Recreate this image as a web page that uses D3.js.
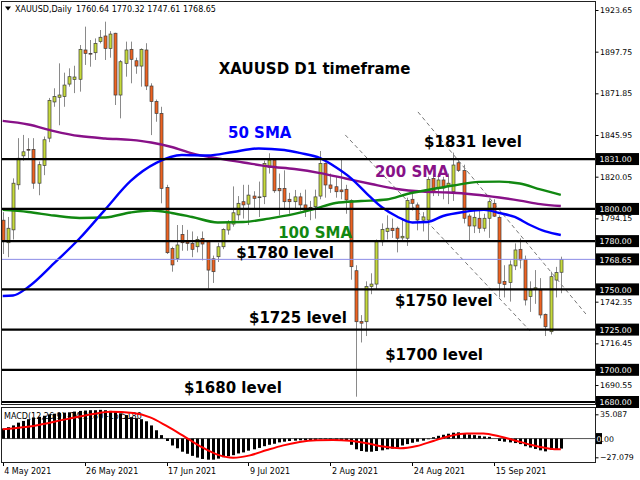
<!DOCTYPE html>
<html><head><meta charset="utf-8">
<script src="https://cdn.jsdelivr.net/npm/d3@7"></script>
<style>
html,body{margin:0;padding:0;background:#fff;}
svg{display:block;}
</style></head><body>
<svg id="c" width="640" height="480"></svg>
<script>
// ---------- DATA ----------
const symbol = "XAUUSD,Daily";
const lastOHLC = "1760.64 1770.32 1747.61 1768.65";
const openP = [1793.0,1779.0,1787.0,1815.0,1833.0,1837.0,1837.0,1816.0,1827.0,1844.0,
1866.5,1869.4,1869.8,1877.6,1880.5,1880.6,1898.8,1896.7,1897.1,1904.0,
1907.5,1899.8,1909.2,1870.8,1890.5,1899.2,1892.1,1888.8,1898.8,1876.4,
1866.7,1859.4,1813.4,1775.5,1769.3,1784.2,1779.5,1778.6,1776.5,1781.7,
1779.6,1769.0,1770.3,1776.5,1786.9,1790.6,1796.3,1804.5,1803.0,1808.0,
1807.2,1807.6,1825.9,1830.4,1812.8,1812.8,1806.0,1804.5,1807.5,1802.5,
1801.0,1801.4,1808.0,1828.3,1814.9,1813.8,1811.8,1812.2,1805.2,1761.6,
1730.0,1729.9,1751.7,1753.3,1779.6,1786.0,1788.0,1788.0,1782.0,1781.8,
1806.0,1802.5,1793.0,1793.1,1819.0,1813.0,1818.0,1814.0,1810.7,1828.7,
1823.8,1795.6,1789.4,1794.2,1788.0,1794.2,1803.5,1794.8,1755.0,1754.2,
1764.6,1774.9,1768.7,1745.5,1750.0,1749.6,1734.5,1723.7,1755.8,1760.64];
const highP = [1798.0,1795.0,1819.0,1844.0,1846.0,1844.0,1844.0,1829.5,1845.0,1869.0,
1875.0,1890.5,1884.7,1887.4,1889.0,1901.9,1913.3,1905.0,1906.0,1911.2,
1916.4,1910.5,1909.5,1892.5,1904.0,1904.0,1894.0,1899.8,1903.0,1878.1,
1868.0,1863.5,1815.0,1776.5,1790.0,1790.0,1787.0,1786.0,1783.0,1786.0,
1780.0,1771.0,1779.0,1788.0,1793.0,1814.0,1808.0,1815.0,1815.0,1811.0,
1817.0,1830.0,1834.6,1831.3,1822.0,1824.0,1810.0,1811.8,1810.0,1812.0,
1805.0,1812.0,1836.0,1828.9,1822.0,1820.0,1830.8,1815.0,1806.0,1765.0,
1734.0,1755.0,1760.0,1781.0,1791.0,1796.0,1794.0,1789.0,1794.0,1807.0,
1810.0,1804.0,1798.0,1820.0,1822.0,1822.0,1820.0,1822.0,1835.0,1831.0,
1827.5,1797.0,1799.0,1799.0,1797.0,1806.0,1806.0,1796.0,1765.0,1768.0,
1778.6,1781.7,1771.0,1755.0,1762.0,1757.0,1735.0,1761.0,1764.0,1770.32];
const lowP = [1772.0,1770.0,1781.0,1812.0,1830.0,1830.5,1812.5,1808.5,1821.0,1841.5,
1863.5,1852.0,1863.5,1876.0,1872.0,1872.9,1889.5,1888.4,1892.6,1902.9,
1892.6,1894.0,1864.6,1856.3,1882.2,1878.1,1884.0,1876.0,1873.9,1845.9,
1854.2,1803.5,1772.0,1761.0,1767.0,1774.0,1774.0,1770.0,1773.0,1768.0,
1750.5,1754.0,1767.0,1775.0,1784.0,1789.0,1793.0,1794.0,1790.0,1800.0,
1795.0,1803.0,1822.0,1810.0,1796.0,1800.0,1797.0,1800.4,1799.0,1795.0,
1793.0,1794.0,1806.0,1807.0,1810.0,1807.0,1806.0,1797.0,1756.0,1683.3,
1717.0,1721.0,1747.0,1750.0,1777.0,1781.0,1782.0,1773.0,1780.0,1777.0,
1799.0,1786.7,1786.0,1780.0,1808.0,1808.0,1806.0,1803.0,1805.0,1823.0,
1791.0,1780.0,1785.0,1785.0,1786.0,1782.0,1795.0,1745.0,1745.0,1742.4,
1762.0,1763.0,1740.0,1736.0,1741.0,1732.0,1721.0,1722.0,1745.0,1747.61];
const closeP = [1780.0,1788.0,1816.0,1831.5,1835.5,1836.5,1816.0,1827.5,1843.0,1867.5,
1869.8,1870.8,1877.0,1882.2,1882.0,1899.2,1896.7,1896.2,1902.9,1906.7,
1899.8,1908.7,1870.8,1891.5,1898.8,1893.0,1888.8,1899.2,1876.4,1866.7,
1859.4,1812.8,1772.8,1765.2,1777.6,1779.0,1778.6,1774.9,1781.1,1778.2,
1762.0,1761.0,1776.5,1787.3,1792.0,1797.6,1803.5,1802.5,1808.6,1806.6,
1807.5,1828.3,1830.4,1811.3,1811.3,1804.5,1804.5,1807.5,1802.5,1798.3,
1800.0,1807.5,1828.3,1814.9,1812.8,1810.7,1810.7,1805.6,1764.1,1729.9,
1729.0,1751.7,1753.3,1779.6,1787.3,1788.0,1786.5,1781.8,1783.0,1805.2,
1803.5,1793.1,1795.0,1818.4,1811.0,1818.0,1813.0,1816.0,1827.3,1824.0,
1794.2,1789.4,1794.8,1788.0,1794.2,1804.5,1795.5,1753.8,1753.0,1765.2,
1774.5,1768.3,1743.4,1749.6,1751.0,1734.1,1726.8,1757.9,1760.4,1768.65];

// moving averages: [bar index, price]
const sma50 = [[0,1745.9],[2,1746.2],[5,1751.5],[10,1766.1],[15,1781.6],[20,1799.6],[25,1817.4],[30,1828.6],
[35,1833.5],[40,1833.2],[45,1835.4],[50,1837.6],[55,1836.6],[58,1834.8],[62,1831.6],[65,1826.1],
[68,1819.2],[71,1809.9],[74,1801.2],[77,1795.3],[80,1791.6],[83,1791.9],[86,1795.6],[90,1798.1],
[94,1799.4],[97,1797.5],[100,1795],[103,1790],[106,1786],[109,1783.8]];
const sma100 = [[0,1799.4],[5,1798.1],[10,1795.9],[15,1794.4],[20,1794.7],[25,1797.8],[29,1799],
[33,1797.5],[37,1795],[42,1791.6],[47,1791.9],[52,1794],[57,1796.9],[61,1800],[65,1803.7],
[70,1804.9],[75,1805.9],[79,1809.3],[83,1811.8],[88,1814.6],[93,1816.8],[97,1817],[101,1815.8],
[105,1812.1],[109,1808.7]];
const sma200 = [[0,1854.7],[5,1852.5],[10,1848.4],[15,1845.3],[20,1843.8],[25,1842.9],[29,1841.3],
[33,1838.5],[37,1834.5],[42,1831.4],[47,1828.9],[52,1826.4],[57,1824.8],[62,1822.3],[67,1818.9],
[72,1815.5],[77,1812.4],[82,1810.8],[87,1810.2],[92,1809],[97,1807.1],[101,1805.2],[105,1803],
[109,1801.8]];

const levels = [1831, 1800, 1780, 1750, 1725, 1700, 1680];
const currentPrice = 1768.65;
const priceTicks = [1923.65,1897.75,1871.85,1845.95,1820.05,1794.15,1742.35,1716.45,1690.55];
const trendLines = [[[81.1,1860.3],[113.9,1734.7]], [[66.9,1846.0],[103.0,1724.2]]];

const macdMain = [14.5,16.5,19,23,25.5,28,30.5,31.5,33,35,
36,37,37.5,38,39,40,40.5,41,41,41.5,
41,40,38,36.5,34,31,29.5,28,25,19,
12,5,-3.5,-10,-14,-19,-22,-25,-27.5,-29.5,
-30.5,-30.5,-29,-27,-25.5,-24,-21.5,-20,-17.5,-15.5,
-13.5,-11,-9,-7.5,-5.5,-4.5,-3.5,-3,-2.5,-2.5,
-2.5,-2,-1,-1,-1.5,-2,-2.5,-3.5,-9,-15.5,
-18,-19,-19,-18,-17,-15.5,-14.5,-13,-10,-8,
-6,-4.5,-3,-1,2,4,5.5,7,8.5,9,
7,6,5,4,3,2.5,0,-3.5,-4.5,-5.5,
-6.5,-8,-11,-13,-15,-17,-18.5,-16,-15,-14.5];
const macdSignal = [[0,13.5],[6,18.3],[12.5,28.1],[17.7,35.4],[21,38.7],[25.5,36.8],[28.8,30.6],
[32,18.3],[35.3,3.8],[38.5,-10.8],[41.8,-22.9],[45,-27.7],[48.3,-24.3],[51.6,-16.6],[54.8,-9.8],
[58,-4.9],[61.3,-2.5],[64.5,-2],[67.8,-3],[71.1,-6.8],[74.3,-11.6],[77.6,-14.1],[80.9,-10.8],
[84.1,-3.4],[87.4,3.8],[90.6,7.3],[93.9,7.3],[97.1,2.9],[100.4,-3.4],[103.6,-9.8],[106.9,-14.6],
[109,-15.6]];
const macdTicks = [35.087, -27.079];
const macdLabel = "MACD(12,26,9) -14.2180 -15.5180";

const dateTickIdx = [0,16,32,48,64,80,96];
const dateTickLabels = ["4 May 2021","26 May 2021","17 Jun 2021","9 Jul 2021","2 Aug 2021","24 Aug 2021","15 Sep 2021"];

const annotations = [
  {t:"XAUUSD D1 timeframe", i:42.2, p:1883.9, c:"#000", s:15},
  {t:"50 SMA", i:44.0, p:1844.1, c:"#0000ff", s:15},
  {t:"$1831 level", i:82.3, p:1838.5, c:"#000", s:15},
  {t:"200 SMA", i:72.7, p:1819.9, c:"#881188", s:15},
  {t:"100 SMA", i:53.8, p:1781.9, c:"#118811", s:15},
  {t:"$1780 level", i:45.6, p:1769.5, c:"#000", s:15},
  {t:"$1750 level", i:76.6, p:1739.7, c:"#000", s:15},
  {t:"$1725 level", i:48.1, p:1729.1, c:"#000", s:15},
  {t:"$1700 level", i:74.7, p:1706.1, c:"#000", s:15},
  {t:"$1680 level", i:35.4, p:1685.6, c:"#000", s:15}
];

// ---------- DRAW ----------
const svg = d3.select("#c");
const FONT = "DejaVu Sans";
const plotR = 595.5;
const x = d3.scaleLinear().domain([0,109]).range([2.7,560.8]);
const y = d3.scaleLinear().domain([1680,1923.65]).range([402,10]);
const ym = d3.scaleLinear().domain([-27.079,35.087]).range([457.3,414.3]);

svg.append("rect").attr("width",640).attr("height",480).attr("fill","#fff");

const defs = svg.append("defs");
defs.append("clipPath").attr("id","pc").append("rect").attr("x",1.5).attr("y",1.5).attr("width",plotR-1.5).attr("height",403);
defs.append("clipPath").attr("id","mc").append("rect").attr("x",1.5).attr("y",407.5).attr("width",plotR-1.5).attr("height",55);

const gp = svg.append("g").attr("clip-path","url(#pc)");

// trend channel dashed lines
gp.selectAll("line.tr").data(trendLines).enter().append("line")
  .attr("x1",d=>x(d[0][0])).attr("y1",d=>y(d[0][1]))
  .attr("x2",d=>x(d[1][0])).attr("y2",d=>y(d[1][1]))
  .attr("stroke","#777").attr("stroke-width",1).attr("stroke-dasharray","4,3");

// candles
const bars = d3.range(openP.length);
gp.selectAll("line.wick").data(bars).enter().append("line")
  .attr("x1",i=>Math.round(x(i))+0.5).attr("x2",i=>Math.round(x(i))+0.5)
  .attr("y1",i=>y(highP[i])).attr("y2",i=>y(lowP[i]))
  .attr("stroke","#8a8a8a").attr("stroke-width",1);
gp.selectAll("rect.body").data(bars).enter().append("rect")
  .attr("x",i=>Math.round(x(i))-1)
  .attr("width",3)
  .attr("y",i=>y(Math.max(openP[i],closeP[i])))
  .attr("height",i=>Math.max(0.8, Math.abs(y(openP[i])-y(closeP[i]))))
  .attr("fill",i=>closeP[i]>=openP[i]?"#c6da3a":"#ee6220")
  .attr("stroke","#3c3c3c").attr("stroke-width",0.7);

// moving averages
const maLine = d3.line().x(d=>x(d[0])).y(d=>y(d[1])).curve(d3.curveMonotoneX);
[[sma200,"#881188"],[sma100,"#118811"],[sma50,"#0000ff"]].forEach(([d,c])=>{
  gp.append("path").attr("d",maLine(d)).attr("fill","none").attr("stroke",c).attr("stroke-width",2.4);
});

// current price line
gp.append("line").attr("x1",1.5).attr("x2",plotR).attr("y1",y(currentPrice)).attr("y2",y(currentPrice))
  .attr("stroke","#8c8ce6").attr("stroke-width",1);

// level lines
gp.selectAll("line.lvl").data(levels).enter().append("line")
  .attr("x1",1.5).attr("x2",plotR).attr("y1",d=>y(d)).attr("y2",d=>y(d))
  .attr("stroke","#000").attr("stroke-width",2.2);

// annotations
svg.selectAll("text.ann").data(annotations).enter().append("text")
  .attr("x",d=>x(d.i)).attr("y",d=>y(d.p))
  .attr("font-family",FONT).attr("font-weight","bold").attr("font-size",d=>d.s)
  .attr("fill",d=>d.c).text(d=>d.t);

// panel borders
svg.append("rect").attr("x",1.5).attr("y",1.5).attr("width",plotR-1.5).attr("height",403)
  .attr("fill","none").attr("stroke","#222").attr("stroke-width",1);
svg.append("rect").attr("x",1.5).attr("y",407.5).attr("width",plotR-1.5).attr("height",55)
  .attr("fill","none").attr("stroke","#222").attr("stroke-width",1);

// header
svg.append("path").attr("d","M5,6.5 L11,6.5 L8,10.5 Z").attr("fill","#000");
svg.append("text").attr("x",15).attr("y",12).attr("font-family",FONT).attr("font-size",8).attr("fill","#000").text(symbol);
svg.append("text").attr("x",76).attr("y",12).attr("font-family",FONT).attr("font-size",8).attr("fill","#000").text(lastOHLC);

// price axis
const ay = svg.append("g").attr("transform",`translate(${plotR},0)`)
  .call(d3.axisRight(y).tickValues(priceTicks).tickSize(3).tickPadding(1.5).tickFormat(d3.format(".2f")));
ay.select(".domain").remove();
ay.selectAll("text").attr("font-family",FONT).attr("font-size",7.8).attr("fill","#000");
ay.selectAll("line").attr("stroke","#000");

// level label boxes
const boxData = levels.concat([currentPrice]);
const bx = svg.append("g");
bx.selectAll("rect").data(boxData).enter().append("rect")
  .attr("x",plotR+0.5).attr("y",d=>y(d)-6).attr("width",43).attr("height",12).attr("fill","#000");
bx.selectAll("text").data(boxData).enter().append("text")
  .attr("x",plotR+4).attr("y",d=>y(d)+3.2)
  .attr("font-family",FONT).attr("font-size",7.8).attr("fill","#fff").text(d=>d3.format(".2f")(d));

// MACD panel
const gm = svg.append("g").attr("clip-path","url(#mc)");
gm.append("text").attr("x",4).attr("y",419).attr("font-family",FONT).attr("font-size",8).attr("fill","#000").text(macdLabel);
gm.append("line").attr("x1",1.5).attr("x2",plotR).attr("y1",ym(0)).attr("y2",ym(0)).attr("stroke","#555").attr("stroke-width",1);
gm.selectAll("rect.h").data(bars).enter().append("rect")
  .attr("x",i=>Math.round(x(i))-1).attr("width",3)
  .attr("y",i=>Math.min(ym(0),ym(macdMain[i])))
  .attr("height",i=>Math.abs(ym(macdMain[i])-ym(0)))
  .attr("fill","#000");
gm.append("path").attr("d",d3.line().x(d=>x(d[0])).y(d=>ym(d[1])).curve(d3.curveMonotoneX)(macdSignal))
  .attr("fill","none").attr("stroke","#ff0000").attr("stroke-width",2);

const am = svg.append("g").attr("transform",`translate(${plotR},0)`)
  .call(d3.axisRight(ym).tickValues(macdTicks).tickSize(3).tickPadding(1.5).tickFormat(d3.format(".3f")));
am.select(".domain").remove();
am.selectAll("text").attr("font-family",FONT).attr("font-size",7.8).attr("fill","#000");
am.selectAll("line").attr("stroke","#000");
// zero label
svg.append("rect").attr("x",plotR+0.5).attr("y",ym(0)-5.5).attr("width",6).attr("height",11).attr("fill","#000");
svg.append("text").attr("x",plotR+1).attr("y",ym(0)+3).attr("font-family",FONT).attr("font-size",7.8)
  .html('<tspan fill="#fff">0</tspan><tspan fill="#000">.00</tspan>');

// date axis
const ax = svg.append("g");
ax.selectAll("line").data(dateTickIdx).enter().append("line")
  .attr("x1",d=>Math.round(x(d))+0.5).attr("x2",d=>Math.round(x(d))+0.5)
  .attr("y1",463).attr("y2",466).attr("stroke","#000");
ax.selectAll("text").data(dateTickIdx).enter().append("text")
  .attr("x",d=>Math.max(2,x(d)+1.5)).attr("y",474)
  .attr("font-family",FONT).attr("font-size",8).attr("fill","#000")
  .text((d,i)=>dateTickLabels[i]);
</script>
</body></html>
